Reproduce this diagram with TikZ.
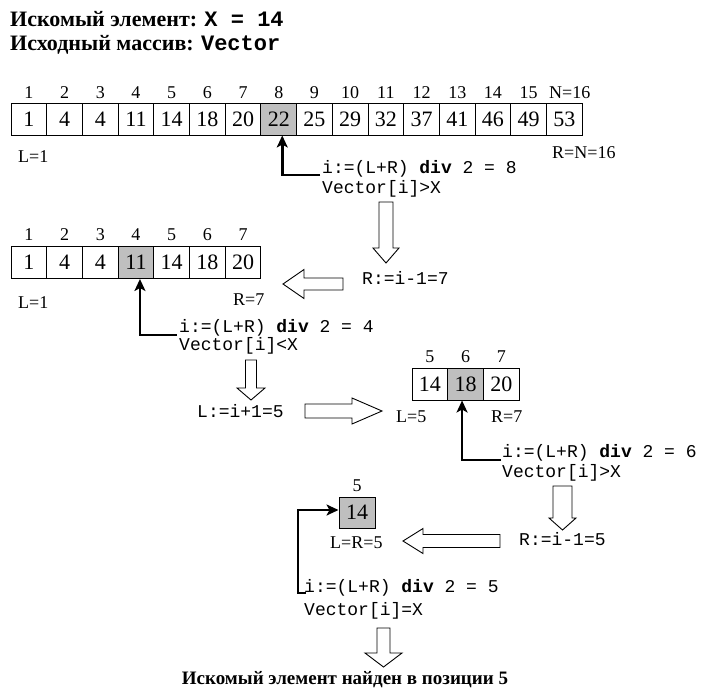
\documentclass[tikz,border=0pt]{standalone}
\usepackage{fontspec}
\setmainfont{Liberation Serif}
\setmonofont{Liberation Mono}
\usetikzlibrary{arrows.meta}
\newcommand\hdown[6]{\draw[hollow] ({#1-#2},#4) -- ({#1-#2},#5) -- ({#1-#3},#5) -- (#1,#6) -- ({#1+#3},#5) -- ({#1+#2},#5) -- ({#1+#2},#4) -- cycle;}
\newcommand\hhoriz[6]{\draw[hollow] (#4,{#1-#2}) -- (#5,{#1-#2}) -- (#5,{#1-#3}) -- (#6,#1) -- (#5,{#1+#3}) -- (#5,{#1+#2}) -- (#4,{#1+#2}) -- cycle;}
\begin{document}
\begin{tikzpicture}[x=1pt,y=-1pt,
  cell/.style={draw,line width=1pt,minimum width=35.7pt,minimum height=32pt,inner sep=0pt,font=\fontsize{22}{22}\selectfont},
  idx/.style={anchor=base,inner sep=0pt,font=\fontsize{18}{18}\selectfont},
  lab/.style={anchor=base west,inner sep=0pt,font=\fontsize{18}{18}\selectfont},
  code/.style={anchor=base west,inner sep=0pt,font=\fontsize{18}{18}\selectfont\ttfamily},
  ptr/.style={line width=2.6pt,-{Stealth[length=12pt,width=11pt,inset=3pt]}},
  hollow/.style={draw,line width=0.9pt,fill=white},
  title/.style={anchor=base west,inner sep=0pt,font=\fontsize{22}{22}\selectfont\bfseries}]
\useasboundingbox (0,0) rectangle (706,688);
% titles
\node[title] (t1) at (10,26) {Искомый элемент: \texttt{X = 14}};
\node[title] (t2) at (10,50) {Исходный массив: \texttt{Vector}};
% array 1
\foreach \v/\f [count=\i] in {1/white,4/white,4/white,11/white,14/white,18/white,20/white,22/gray!50,25/white,29/white,32/white,37/white,41/white,46/white,49/white,53/white}
  {\node[cell,fill=\f] (a\i) at ({11+35.7*(\i-0.5)},119) {\v};}
\foreach \i in {1,...,15}
  {\node[idx] (ai\i) at ({11+35.7*(\i-0.5)},98) {\i};}
\node[lab] (ai16) at (549,98) {N=16};
\node[lab] (l1) at (18,162) {L=1};
\node[lab] (r1) at (552,158) {R=N=16};
\coordinate (k1) at (320,175);
\draw[ptr] (k1) -| ([xshift=3.5pt]a8.south);
\node[code] (c1a) at (322,173) {i:=(L+R) \textbf{div} 2 = 8};
\node[code] (c1b) at (322,193) {Vector[i]>X};
\hdown{386}{7}{13}{202}{248}{263}
\node[code] (s1) at (362,284) {R:=i-1=7};
\hhoriz{284}{6}{14.5}{343}{304}{283}
% array 2
\foreach \v/\f [count=\i] in {1/white,4/white,4/white,11/gray!50,14/white,18/white,20/white}
  {\node[cell,fill=\f] (b\i) at ({11+35.7*(\i-0.5)},262.5) {\v};
   \node[idx] (bi\i) at ({11+35.7*(\i-0.5)},240) {\i};}
\node[lab] (l2) at (18,308) {L=1};
\node[lab] (r2) at (233,305) {R=7};
\coordinate (k2) at (177,335);
\draw[ptr] (k2) -| ([xshift=4pt]b4.south);
\node[code] (c2a) at (179,332) {i:=(L+R) \textbf{div} 2 = 4};
\node[code] (c2b) at (179,350) {Vector[i]<X};
\hdown{251}{5.5}{14}{360}{388}{400}
\node[code] (s2) at (197,417) {L:=i+1=5};
\hhoriz{411}{7}{13}{305}{352}{382}
% array 3
\foreach \v/\f/\n [count=\i] in {14/white/5,18/gray!50/6,20/white/7}
  {\node[cell,fill=\f] (c\i) at ({412+35.7*(\i-0.5)},384) {\v};
   \node[idx] (ci\i) at ({412+35.7*(\i-0.5)},362) {\n};}
\node[lab] (l3) at (396,422) {L=5};
\node[lab] (r3) at (491,422) {R=7};
\coordinate (k3) at (501,460);
\draw[ptr] (k3) -| ([xshift=-3.5pt]c2.south);
\node[code] (c3a) at (502,457) {i:=(L+R) \textbf{div} 2 = 6};
\node[code] (c3b) at (502,477) {Vector[i]>X};
\hdown{562.5}{9.5}{13.5}{486}{518}{530}
\node[code] (s3) at (519,545) {R:=i-1=5};
\hhoriz{541}{6.5}{12.5}{500}{423}{403}
% single cell
\node[cell,fill=gray!50,minimum width=36pt,minimum height=31pt] (d1) at (357,512.5) {14};
\node[idx] (di1) at (357,491) {5};
\node[lab] (l4) at (330,548) {L=R=5};
\coordinate (k4) at (306,593);
\draw[ptr] (k4) -- ++(-8,0) |- ([yshift=2.5pt]d1.west);
\node[code] (c4a) at (304,592) {i:=(L+R) \textbf{div} 2 = 5};
\node[code] (c4b) at (304,615) {Vector[i]=X};
\hdown{383.5}{6.5}{18.5}{628}{653}{667}
\node[anchor=base,inner sep=0pt,font=\fontsize{19}{19}\selectfont\bfseries] (fin) at (345,684) {Искомый элемент найден в позиции 5};
\end{tikzpicture}
\end{document}
